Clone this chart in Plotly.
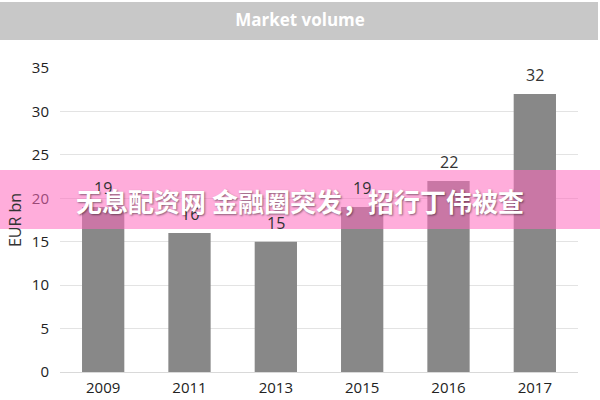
import plotly.graph_objects as go

years = ["2009", "2011", "2013", "2015", "2016", "2017"]
volumes = [19, 16, 15, 19, 22, 32]
y_ticks = [0, 5, 10, 15, 20, 25, 30, 35]

W, H = 600, 400
ml, mr, mt, mb = 60, 22, 68, 28
pw, ph = W - ml - mr, H - mt - mb

def px_x(x):
    return (x - ml) / pw

def px_y(y):
    return (H - mb - y) / ph

fig = go.Figure(go.Bar(
    x=years, y=volumes,
    marker=dict(color="#888888", line=dict(width=0)),
    hoverinfo="x+y",
))

# category axis: annotation x is the category's index
value_labels = [
    dict(x=i, y=v, xref="x", yref="y", text=str(v), showarrow=False,
         xanchor="center", yanchor="middle", yshift=19,
         font=dict(family="Open Sans", size=16, color="#333333"))
    for i, v in enumerate(volumes)
]

fig.update_layout(
    width=W, height=H,
    margin=dict(l=ml, r=mr, t=mt, b=mb, autoexpand=False),
    paper_bgcolor="white", plot_bgcolor="white",
    bargap=0.51,
    showlegend=False,
    title=dict(text="<b>Market volume</b>", x=0.5, xref="container", xanchor="center",
               y=1 - 20 / H, yref="container", yanchor="middle",
               font=dict(family="Open Sans", size=17, color="white")),
    xaxis=dict(type="category", categoryorder="array", categoryarray=years,
               range=[-0.5, len(years) - 0.5],
               showgrid=False, showline=True, linecolor="#d9d9d9",
               linewidth=1, ticks="", automargin=False, ticklabelstandoff=2,
               tickfont=dict(family="Open Sans", size=15, color="#222222")),
    yaxis=dict(range=[0, 35], tickvals=y_ticks, showgrid=True, gridcolor="#e3e3e3",
               zeroline=False, ticks="", ticklabelstandoff=10, automargin=False,
               tickfont=dict(family="Open Sans", size=15, color="#222222"),
               title=dict(text="EUR bn", standoff=6,
                          font=dict(family="Open Sans", size=16, color="#333333"))),
    shapes=[
        dict(type="rect", xref="paper", yref="paper", x0=px_x(0), x1=px_x(598),
             y0=px_y(40), y1=px_y(2), fillcolor="#c8c8c8", line=dict(width=0), layer="below"),
        dict(type="rect", xref="paper", yref="paper", x0=px_x(0), x1=px_x(600),
             y0=px_y(229), y1=px_y(170), fillcolor="rgba(255,105,190,0.55)",
             line=dict(width=0), layer="above"),
    ],
    annotations=value_labels + [
        dict(text="<b>无息配资网 金融圈突发，招行丁伟被查</b>", xref="paper", yref="paper",
             x=px_x(300), y=px_y(200), xanchor="center", yanchor="middle", showarrow=False,
             font=dict(family="Noto Sans CJK SC", size=26, color="white",
                       shadow="1px 1px 2px rgba(0,0,0,0.45)")),
    ],
)

post = ("var s=document.body.style;s.margin='0';s.padding='0';s.overflow='hidden';"
        "s.height='400px';var h=document.documentElement.style;h.overflow='hidden';"
        "h.height='400px';")
fig.write_html("out.html", config={"displayModeBar": False}, post_script=post)
